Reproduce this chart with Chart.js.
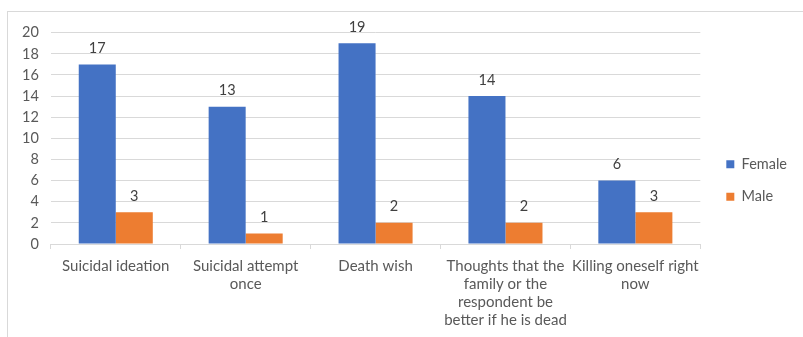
<!DOCTYPE html>
<html>
<head>
<meta charset="utf-8">
<script src="https://cdn.jsdelivr.net/npm/chart.js@4.4.1/dist/chart.umd.min.js"></script>
<style>
    html, body { margin: 0; padding: 0; background: #fff; }
    #frame {
        position: absolute;
        left: 7px;
        top: 11px;
        width: 796px;
        height: 326px;
        border-left: 1px solid #d9d9d9;
        border-top: 1px solid #d9d9d9;
    }
    #chart { display: block; }
</style>
</head>
<body>
<div id="frame"><canvas id="chart" width="795" height="325"></canvas></div>
<script>
// Categories (x axis), wrapped like the original
const categories = [
    ['Suicidal ideation'],
    ['Suicidal attempt', 'once'],
    ['Death wish'],
    ['Thoughts that the', 'family or the', 'respondent be', 'better if he is dead'],
    ['Killing oneself right', 'now']
];
const femaleValues = [17, 13, 19, 14, 6];
const maleValues = [3, 1, 2, 2, 3];
const yTicks = [0, 2, 4, 6, 8, 10, 12, 14, 16, 18, 20];

const textColor = '#595959';
const fontFamily = 'Lato, "Open Sans", sans-serif';

// Value labels above each bar
const valueLabels = {
    id: 'valueLabels',
    afterDatasetsDraw(chart) {
        const ctx = chart.ctx;
        ctx.save();
        ctx.fillStyle = '#404040';
        ctx.font = '14.5px ' + fontFamily;
        ctx.textAlign = 'center';
        ctx.textBaseline = 'bottom';
        chart.data.datasets.forEach((ds, i) => {
            chart.getDatasetMeta(i).data.forEach((bar, j) => {
                ctx.fillText(ds.data[j], bar.x, bar.y - 9);
            });
        });
        ctx.restore();
    }
};

// Nudge the legend a little away from the plot, like the original
const legendGap = {
    id: 'legendGap',
    afterLayout(chart) {
        if (chart.legend) {
            chart.legend.left += 8;
            chart.legend.right += 8;
        }
    }
};

new Chart(document.getElementById('chart'), {
    type: 'bar',
    data: {
        labels: categories,
        datasets: [
            {
                label: 'Female',
                data: femaleValues,
                backgroundColor: '#4472C4',
                categoryPercentage: 0.57,
                barPercentage: 1.0
            },
            {
                label: 'Male',
                data: maleValues,
                backgroundColor: '#ED7D31',
                categoryPercentage: 0.57,
                barPercentage: 1.0
            }
        ]
    },
    options: {
        responsive: false,
        animation: false,
        layout: {
            padding: { top: 12, left: 2, right: 14, bottom: 0 }
        },
        plugins: {
            legend: {
                position: 'right',
                align: 'center',
                labels: {
                    color: textColor,
                    font: { size: 14.5, family: fontFamily },
                    boxWidth: 8,
                    boxHeight: 8,
                    padding: 18
                }
            },
            tooltip: { enabled: false }
        },
        scales: {
            x: {
                grid: {
                    offset: true,
                    drawOnChartArea: false,
                    drawTicks: true,
                    tickLength: 5,
                    color: '#d9d9d9'
                },
                border: { color: '#d9d9d9' },
                ticks: {
                    color: textColor,
                    font: { size: 15, family: fontFamily, lineHeight: 1.2 },
                    maxRotation: 0,
                    autoSkip: false,
                    padding: 8
                }
            },
            y: {
                min: 0,
                max: 20,
                afterBuildTicks(axis) {
                    axis.ticks = yTicks.map(v => ({ value: v }));
                },
                grid: {
                    color: '#d9d9d9',
                    drawTicks: false
                },
                border: { display: false },
                ticks: {
                    color: textColor,
                    font: { size: 14.5, family: fontFamily },
                    padding: 12
                }
            }
        }
    },
    plugins: [valueLabels, legendGap]
});
</script>
</body>
</html>
